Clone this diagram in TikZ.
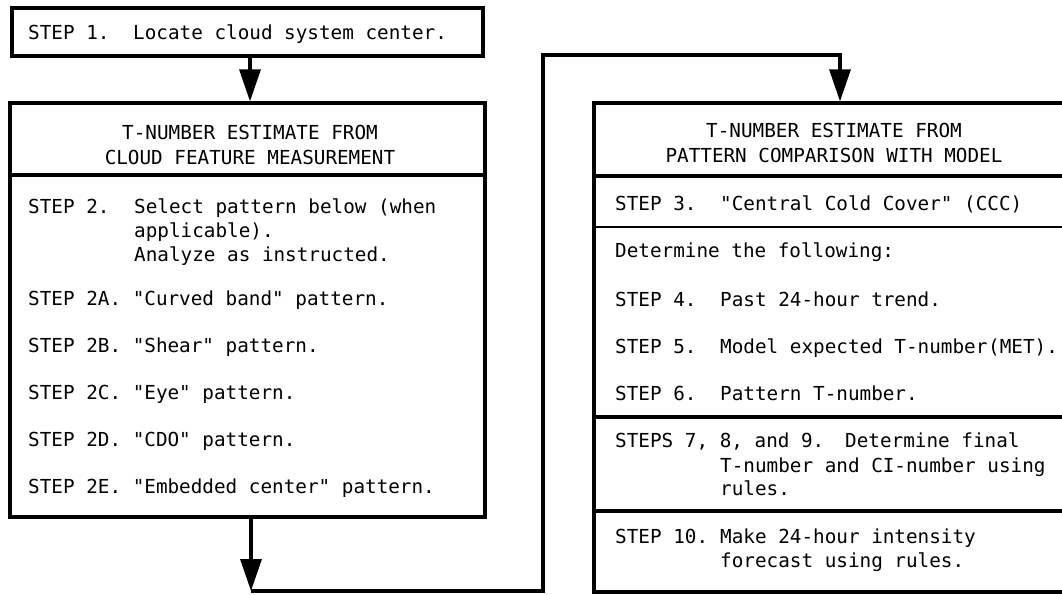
\documentclass[tikz,border=0pt]{standalone}
\usepackage{fontspec}
\setmonofont{DejaVu Sans Mono}
\usetikzlibrary{arrows.meta}
\begin{document}
\begin{tikzpicture}[x=1pt,y=-1pt,
  box/.style={draw, line width=3.2pt, inner sep=0pt},
  txt/.style={inner sep=0pt, anchor=base west, font=\ttfamily\fontsize{19.3}{24}\selectfont},
  hdr/.style={txt, anchor=base},
  rule/.style={line width=3.2pt},
  thinrule/.style={line width=2.4pt},
  arr/.style={line width=3.2pt, -{Triangle[length=32pt,width=21pt]}},
  conn/.style={line width=3.2pt}]
\useasboundingbox (0,0) rectangle (1062,594);
\clip (0,0) rectangle (1062,594);

% boxes
\node[box, minimum width=471pt, minimum height=48pt] (s1) at (247.5,32) {};
\node[box, minimum width=475pt, minimum height=414pt] (L) at (247.5,310) {};
\node[box, minimum width=480pt, minimum height=489pt] (R) at (834,347.5) {};

% dividers
\draw[rule] (10,175) -- (485,175);
\draw[rule] (594,176) -- (1074,176);
\draw[thinrule] (594,227) -- (1074,227);
\draw[rule] (594,417) -- (1074,417);
\draw[rule] (594,511) -- (1074,511);

% step 1
\node[txt] (t1a) at (28,40) {STEP 1.};
\node[txt] (t1b) at (133,40) {Locate cloud system center.};

% left box
\node[hdr] (lh1) at (250,139) {T-NUMBER ESTIMATE FROM};
\node[hdr] (lh2) at (250,164) {CLOUD FEATURE MEASUREMENT};
\node[txt] (t2a) at (28,213) {STEP 2.};
\node[txt] (t2b) at (134,213) {Select pattern below (when};
\node[txt] (t2c) at (134,237) {applicable).};
\node[txt] (t2d) at (134,261) {Analyze as instructed.};
\node[txt] (t2A) at (28,305) {STEP 2A. "Curved band" pattern.};
\node[txt] (t2B) at (28,352) {STEP 2B. "Shear" pattern.};
\node[txt] (t2C) at (28,399) {STEP 2C. "Eye" pattern.};
\node[txt] (t2D) at (28,446) {STEP 2D. "CDO" pattern.};
\node[txt] (t2E) at (28,493) {STEP 2E. "Embedded center" pattern.};

% right box
\node[hdr] (rh1) at (834,137) {T-NUMBER ESTIMATE FROM};
\node[hdr] (rh2) at (834,162) {PATTERN COMPARISON WITH MODEL};
\node[txt] (t3a) at (615,210) {STEP 3.};
\node[txt] (t3b) at (720,210) {"Central Cold Cover" (CCC)};
\node[txt] (tdet) at (615,257) {Determine the following:};
\node[txt] (t4a) at (615,306) {STEP 4.};
\node[txt] (t4b) at (720,306) {Past 24-hour trend.};
\node[txt] (t5a) at (615,353) {STEP 5.};
\node[txt] (t5b) at (720,353) {Model expected T-number};
\node[txt] (t5c) at (988,353) {(MET).};
\node[txt] (t6a) at (615,400) {STEP 6.};
\node[txt] (t6b) at (720,400) {Pattern T-number.};
\node[txt] (t7a) at (615,447) {STEPS 7, 8, and 9.};
\node[txt] (t7b) at (845,447) {Determine final};
\node[txt] (t7c) at (720,472) {T-number and CI-number using};
\node[txt] (t7d) at (720,495) {rules.};
\node[txt] (t10a) at (615,543) {STEP 10.};
\node[txt] (t10b) at (720,543) {Make 24-hour intensity};
\node[txt] (t10c) at (720,567) {forecast using rules.};

% connectors
\draw[arr] ([xshift=2.5pt]s1.south) -- ([xshift=2.5pt]L.north);
\coordinate (c1) at (251,591);
\coordinate (c2) at (543,591);
\coordinate (c3) at (543,55);
\coordinate (c4) at (840,55);
\draw[arr] (L.south -| c1) -- (c1);
\draw[arr] (c1) -- (c2) -- (c3) -- (c4) -- (R.north -| c4);
\end{tikzpicture}
\end{document}
